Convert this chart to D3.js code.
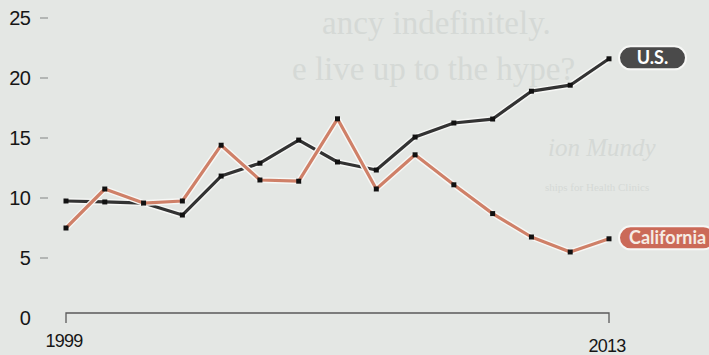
<!DOCTYPE html>
<html>
<head>
<meta charset="utf-8">
<script src="https://cdn.jsdelivr.net/npm/d3@7"></script>
<style>
  html, body { margin: 0; padding: 0; background: #e4e7e4; }
  svg { display: block; }
</style>
</head>
<body>
<script>
const years = d3.range(1999, 2014);
const usValues = [9.75, 9.67, 9.58, 8.58, 11.83, 12.9, 14.83, 13.0, 12.33, 15.08, 16.25, 16.58, 18.9, 19.4, 21.6];
const caValues = [7.5, 10.75, 9.58, 9.75, 14.4, 11.5, 11.4, 16.6, 10.75, 13.6, 11.1, 8.7, 6.75, 5.5, 6.6];
const yTicks = [0, 5, 10, 15, 20, 25];
const xTickYears = [1999, 2013];
const seriesNames = ["U.S.", "California"];

const width = 709, height = 355;

const svg = d3.select("body").append("svg")
  .attr("width", width)
  .attr("height", height);

// paper background with faint show-through text from the other side
svg.append("rect").attr("width", width).attr("height", height).attr("fill", "#e4e7e4");
const ghost = svg.append("g")
  .attr("fill", "#d5d9d6")
  .attr("font-family", "Liberation Serif, DejaVu Serif, serif");
ghost.append("text").attr("x", 322).attr("y", 34).attr("font-size", 33).text("ancy indefinitely.");
ghost.append("text").attr("x", 292).attr("y", 80).attr("font-size", 33).text("e live up to the hype?");
ghost.append("text").attr("x", 548).attr("y", 156).attr("font-size", 25).attr("font-style", "italic").text("ion Mundy");
ghost.append("text").attr("x", 545).attr("y", 191).attr("font-size", 11).text("ships for Health Clinics");

const x = d3.scaleLinear().domain([1999, 2013]).range([66, 609]);
const y = d3.scaleLinear().domain([0, 25]).range([318, 18]);

// y axis labels + dashes
const yAxis = svg.append("g");
yAxis.selectAll("text").data(yTicks).join("text")
  .attr("x", 30)
  .attr("y", d => y(d) + 7)
  .attr("text-anchor", "end")
  .attr("font-family", "Liberation Sans Narrow, Liberation Sans, Arial, sans-serif")
  .attr("font-size", 20)
  .attr("letter-spacing", -0.8)
  .attr("fill", "#161616")
  .text(d => d);
yAxis.selectAll("line").data(yTicks.filter(d => d > 0)).join("line")
  .attr("x1", 40).attr("x2", 48)
  .attr("y1", d => y(d)).attr("y2", d => y(d))
  .attr("stroke", "#a3a6a4")
  .attr("stroke-width", 1.5);

// x axis baseline with end ticks
const baseY = y(0) - 5;
svg.append("path")
  .attr("d", `M${x(1999)},${baseY + 10}V${baseY}H${x(2013)}V${baseY + 10}`)
  .attr("fill", "none")
  .attr("stroke", "#5a5a5a")
  .attr("stroke-width", 1.3);
svg.append("g").selectAll("text").data(xTickYears).join("text")
  .attr("x", d => x(d) - 2)
  .attr("y", (d, i) => baseY + (i === 0 ? 34 : 39))
  .attr("text-anchor", "middle")
  .attr("font-family", "Liberation Sans Narrow, Liberation Sans, Arial, sans-serif")
  .attr("font-size", 18)
  .attr("letter-spacing", -0.8)
  .attr("fill", "#161616")
  .text(d => d);

const line = d3.line().x((d, i) => x(years[i])).y(d => y(d));

const series = [
  { name: seriesNames[0], values: usValues, color: "#333333", box: "#4a4a4a", text: "#ffffff", boxW: 67 },
  { name: seriesNames[1], values: caValues, color: "#cf8068", box: "#cb6a58", text: "#f6ece4", boxW: 96 }
];

series.forEach(s => {
  const g = svg.append("g");
  g.append("path").datum(s.values)
    .attr("d", line)
    .attr("fill", "none")
    .attr("stroke", "#f7f8f6")
    .attr("stroke-width", 6)
    .attr("stroke-linejoin", "round");
  g.append("path").datum(s.values)
    .attr("d", line)
    .attr("fill", "none")
    .attr("stroke", s.color)
    .attr("stroke-width", 3.2)
    .attr("stroke-linejoin", "round");
  g.selectAll("rect").data(s.values).join("rect")
    .attr("x", (d, i) => x(years[i]) - 2.5)
    .attr("y", d => y(d) - 2.5)
    .attr("width", 5).attr("height", 5)
    .attr("fill", "#111");

  // end label pill
  const last = s.values[s.values.length - 1];
  const lx = x(2013) + 10, ly = y(last) - 1;
  g.append("rect")
    .attr("x", lx).attr("y", ly - 11.5)
    .attr("width", s.boxW).attr("height", 23)
    .attr("rx", 11.5)
    .attr("fill", s.box)
    .attr("stroke", "#f7f8f6")
    .attr("stroke-width", 2);
  g.append("text")
    .attr("x", lx + (s.name === "U.S." ? s.boxW / 2 : 10))
    .attr("y", ly + 6.5)
    .attr("text-anchor", s.name === "U.S." ? "middle" : "start")
    .attr("font-family", "Lato, Open Sans, sans-serif")
    .attr("font-weight", "bold")
    .attr("font-size", 18)
    .attr("fill", s.text)
    .text(s.name);
});
</script>
</body>
</html>
